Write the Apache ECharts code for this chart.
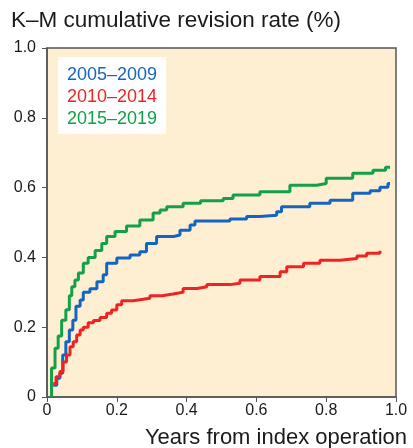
<!DOCTYPE html>
<html>
<head>
<meta charset="utf-8">
<script src="https://cdn.jsdelivr.net/npm/echarts@6/dist/echarts.min.js"></script>
<style>
html,body{margin:0;padding:0;background:#fff;}
#chart{width:413px;height:448px;}
</style>
</head>
<body>
<div id="chart"></div>
<script>
const seriesNames = ['2005–2009', '2010–2014', '2015–2019'];
const seriesColors = ['#1565C0', '#EE2424', '#12A04A'];
const xTickLabels = ['0', '0.2', '0.4', '0.6', '0.8', '1.0'];
const yTickLabels = ['0', '0.2', '0.4', '0.6', '0.8', '1.0'];
const xAxisTitle = 'Years from index operation';
const chartTitle = 'K–M cumulative revision rate (%)';

const blue2005 = [
  [0.018,0.034],[0.028,0.054],[0.037,0.068],[0.045,0.12],[0.054,0.158],[0.064,0.192],
  [0.074,0.22],[0.083,0.26],[0.095,0.278],[0.104,0.30],[0.123,0.31],[0.143,0.33],
  [0.161,0.35],[0.171,0.383],[0.2,0.398],[0.238,0.407],[0.266,0.416],[0.285,0.44],
  [0.314,0.46],[0.363,0.464],[0.381,0.478],[0.41,0.493],[0.424,0.504],[0.524,0.51],
  [0.572,0.517],[0.61,0.521],[0.658,0.531],[0.672,0.545],[0.753,0.555],[0.811,0.564],
  [0.876,0.584],[0.926,0.591],[0.954,0.601],[0.977,0.612],[0.983,0.612]
];
const red2010 = [
  [0.018,0.039],[0.026,0.058],[0.037,0.073],[0.046,0.10],[0.056,0.12],[0.066,0.144],
  [0.075,0.158],[0.085,0.178],[0.095,0.192],[0.104,0.20],[0.118,0.213],[0.133,0.219],
  [0.152,0.228],[0.171,0.24],[0.185,0.249],[0.2,0.264],[0.214,0.276],[0.247,0.28],
  [0.276,0.283],[0.295,0.29],[0.33,0.295],[0.361,0.30],[0.39,0.311],[0.43,0.316],
  [0.458,0.322],[0.524,0.326],[0.553,0.335],[0.61,0.345],[0.668,0.359],[0.687,0.373],
  [0.735,0.383],[0.782,0.392],[0.84,0.397],[0.888,0.404],[0.916,0.412],[0.954,0.419]
];
const green2015 = [
  [0.013,0],[0.013,0.083],[0.023,0.14],[0.032,0.175],[0.042,0.22],[0.054,0.25],
  [0.064,0.29],[0.071,0.316],[0.08,0.335],[0.09,0.355],[0.104,0.383],[0.118,0.40],
  [0.138,0.42],[0.157,0.44],[0.171,0.46],[0.195,0.474],[0.228,0.49],[0.266,0.507],
  [0.304,0.527],[0.324,0.536],[0.343,0.545],[0.39,0.555],[0.44,0.562],[0.505,0.569],
  [0.533,0.579],[0.61,0.588],[0.696,0.607],[0.773,0.612],[0.80,0.627],[0.876,0.641],
  [0.934,0.65],[0.97,0.658],[0.983,0.658]
];
const seriesData = [blue2005, red2010, green2015];

const chart = echarts.init(document.getElementById('chart'), null, {renderer: 'canvas'});
const font = 'Liberation Sans, Arial, Helvetica, sans-serif';

chart.setOption({
  animation: false,
  title: {
    text: chartTitle,
    left: 11, top: 9, padding: 0,
    textStyle: {fontFamily: font, fontSize: 22.5, fontWeight: 'normal', color: '#1a1a1a'}
  },
  legend: {
    orient: 'vertical',
    left: 58, top: 57,
    padding: [9, 9, 6, 4],
    backgroundColor: '#fff',
    itemWidth: 0, itemHeight: 18, itemGap: 4,
    selectedMode: false,
    data: seriesNames.map((n, i) => ({name: n, icon: 'none', textStyle: {color: seriesColors[i]}})),
    textStyle: {fontFamily: font, fontSize: 18}
  },
  grid: {
    left: 47, right: 17, top: 48, bottom: 51,
    containLabel: false, outerBoundsMode: 'none',
    show: true, backgroundColor: '#FEEFD2', borderColor: '#555', borderWidth: 1.5
  },
  graphic: [{
    type: 'text', right: 6, top: 427,
    style: {text: xAxisTitle, fontFamily: font, fontSize: 22, fill: '#1a1a1a'}
  }],
  xAxis: {
    type: 'value', min: 0, max: 1, interval: 0.2,
    axisLine: {lineStyle: {color: '#555', width: 1.5}},
    axisTick: {show: true, inside: false, length: 5, lineStyle: {color: '#555'}},
    axisLabel: {fontFamily: font, fontSize: 16, color: '#1a1a1a', margin: 6,
      formatter: (v) => xTickLabels[Math.round(v / 0.2)]},
    splitLine: {show: false}
  },
  yAxis: {
    type: 'value', min: 0, max: 1, interval: 0.2,
    axisLine: {show: true, lineStyle: {color: '#555', width: 1.5}},
    axisTick: {show: true, inside: false, length: 5, lineStyle: {color: '#555'}},
    axisLabel: {fontFamily: font, fontSize: 16, color: '#1a1a1a', margin: 11,
      formatter: (v) => yTickLabels[Math.round(v / 0.2)]},
    splitLine: {show: false}
  },
  series: seriesData.map((d, i) => ({
    name: seriesNames[i], type: 'line', step: 'end', data: d,
    showSymbol: false, symbol: 'none',
    lineStyle: {color: seriesColors[i], width: 3},
    itemStyle: {color: seriesColors[i]}
  }))
});
</script>
</body>
</html>
